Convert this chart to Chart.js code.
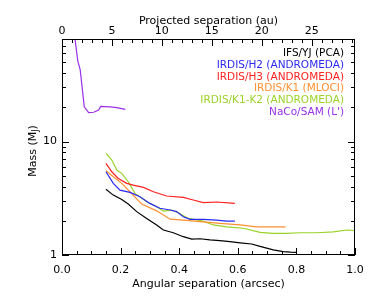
<!DOCTYPE html>
<html>
<head>
<meta charset="utf-8">
<script src="https://cdn.jsdelivr.net/npm/chart.js@4.4.1/dist/chart.umd.min.js"></script>
<style>
  html, body { margin: 0; padding: 0; background: #fff; }
  canvas { display: block; }
</style>
</head>
<body>
<canvas id="massChart" width="374" height="299"></canvas>
<script>
// au per arcsec (top axis)
const AU_PER_ARCSEC = 29.34;

const seriesLabels = [
  "IFS/YJ (PCA)",
  "IRDIS/H2 (ANDROMEDA)",
  "IRDIS/H3 (ANDROMEDA)",
  "IRDIS/K1 (MLOCI)",
  "IRDIS/K1-K2 (ANDROMEDA)",
  "NaCo/SAM (L')",
];
const seriesColors = ["#000000", "#2a2af0", "#ff2020", "#ff9030", "#9ad228", "#9a30e8"];

const ifsSep  = [0.150, 0.175, 0.204, 0.226, 0.255, 0.289, 0.323, 0.346, 0.380, 0.414, 0.443, 0.471, 0.505, 0.539, 0.573, 0.608, 0.647, 0.676, 0.721, 0.755, 0.780, 0.801];
const ifsMass = [3.79, 3.37, 3.09, 2.81, 2.41, 2.10, 1.84, 1.66, 1.57, 1.45, 1.38, 1.39, 1.36, 1.34, 1.31, 1.28, 1.25, 1.19, 1.11, 1.07, 1.06, 1.055];

const h2Sep  = [0.150, 0.175, 0.198, 0.232, 0.266, 0.300, 0.334, 0.369, 0.391, 0.414, 0.437, 0.482, 0.528, 0.562, 0.590];
const h2Mass = [5.41, 4.28, 3.73, 3.56, 3.26, 2.85, 2.58, 2.49, 2.41, 2.17, 2.06, 2.06, 2.03, 1.99, 1.99];

const h3Sep  = [0.150, 0.170, 0.192, 0.221, 0.243, 0.278, 0.312, 0.357, 0.414, 0.448, 0.482, 0.528, 0.590];
const h3Mass = [6.41, 5.41, 4.73, 4.28, 4.13, 3.94, 3.61, 3.31, 3.22, 3.05, 2.89, 2.93, 2.85];

const k1Sep  = [0.150, 0.175, 0.204, 0.232, 0.272, 0.323, 0.369, 0.414, 0.482, 0.539, 0.608, 0.665, 0.763];
const k1Mass = [5.52, 4.89, 4.28, 3.61, 2.81, 2.45, 2.07, 2.03, 1.96, 1.90, 1.84, 1.77, 1.77];

const k12Sep  = [0.150, 0.170, 0.187, 0.204, 0.226, 0.249, 0.289, 0.323, 0.346, 0.374, 0.397, 0.431, 0.482, 0.516, 0.562, 0.619, 0.676, 0.721, 0.767, 0.812, 0.869, 0.926, 0.972, 1.0];
const k12Mass = [7.85, 6.86, 5.60, 5.24, 4.42, 3.49, 2.94, 2.66, 2.44, 2.49, 2.36, 2.10, 1.99, 1.84, 1.77, 1.72, 1.58, 1.55, 1.55, 1.57, 1.57, 1.60, 1.66, 1.64];

const nacoSep  = [0.043, 0.054, 0.062, 0.076, 0.091, 0.108, 0.125, 0.132, 0.164, 0.187, 0.216];
const nacoMass = [85, 51, 43, 20.2, 18.0, 18.1, 18.9, 20.4, 20.2, 19.9, 19.2];

const yLabelTicks = [1, 10];
const auLabelTicks = [0, 5, 10, 15, 20, 25];

function pairs(xs, ys) {
  return xs.map((x, i) => ({ x: x, y: ys[i] }));
}

const allSep = [ifsSep, h2Sep, h3Sep, k1Sep, k12Sep, nacoSep];
const allMass = [ifsMass, h2Mass, h3Mass, k1Mass, k12Mass, nacoMass];

const datasets = seriesLabels.map((label, i) => ({
  label: label,
  data: pairs(allSep[i], allMass[i]),
  borderColor: seriesColors[i],
  borderWidth: 1.2,
  pointRadius: 0,
  tension: 0,
  fill: false,
}));

// ---- inward tick marks + frame ----
const frameTicks = {
  id: "frameTicks",
  afterDraw(chart) {
    const { ctx, chartArea: a, scales } = chart;
    ctx.save();
    ctx.strokeStyle = "#000";
    ctx.lineWidth = 1;
    ctx.strokeRect(a.left + 0.5, a.top + 0.5, a.right - a.left - 1, a.bottom - a.top - 1);
    ctx.beginPath();
    // bottom axis: major 0.2, minor 0.05
    for (let i = 0; i <= 20; i++) {
      const v = i * 0.05;
      const px = Math.round(scales.x.getPixelForValue(v)) + 0.5;
      const len = i % 4 === 0 ? 7 : 4;
      ctx.moveTo(px, a.bottom);
      ctx.lineTo(px, a.bottom - len);
    }
    // top axis: major 5 au, minor 1 au
    for (let v = 0; v <= 29; v++) {
      const px = Math.round(scales.x2.getPixelForValue(v)) + 0.5;
      const len = v % 5 === 0 ? 7 : 4;
      ctx.moveTo(px, a.top);
      ctx.lineTo(px, a.top + len);
    }
    // log y axis, left and right
    for (let d = 1; d <= 10; d *= 10) {
      for (let m = 1; m <= 9; m++) {
        const v = m * d;
        if (v > 80) break;
        const py = Math.round(scales.y.getPixelForValue(v)) + 0.5;
        const len = m === 1 ? 7 : 4;
        ctx.moveTo(a.left, py);
        ctx.lineTo(a.left + len, py);
        ctx.moveTo(a.right, py);
        ctx.lineTo(a.right - len, py);
      }
    }
    ctx.stroke();

    // y title with subscript
    ctx.fillStyle = "#000";
    ctx.translate(33, 151);
    ctx.rotate(-Math.PI / 2);
    ctx.textBaseline = "middle";
    const big = "11px 'DejaVu Sans'";
    const small = "8px 'DejaVu Sans'";
    ctx.font = big;
    const w1 = ctx.measureText("Mass (M").width;
    const w3 = ctx.measureText(")").width;
    ctx.font = small;
    const w2 = ctx.measureText("J").width;
    let x0 = -(w1 + w2 + w3) / 2;
    ctx.font = big;
    ctx.textAlign = "left";
    ctx.fillText("Mass (M", x0, 0);
    ctx.font = small;
    ctx.fillText("J", x0 + w1, 3);
    ctx.font = big;
    ctx.fillText(")", x0 + w1 + w2, 0);
    ctx.restore();

    // legend, right aligned text
    ctx.save();
    ctx.font = "10.5px 'DejaVu Sans'";
    ctx.textAlign = "right";
    ctx.textBaseline = "middle";
    chart.data.datasets.forEach((ds, i) => {
      ctx.fillStyle = ds.borderColor;
      ctx.fillText(ds.label, 344, 53.5 + i * 11.7);
    });
    ctx.restore();
  },
};

Chart.defaults.font.family = "'DejaVu Sans'";
Chart.defaults.font.size = 11;
Chart.defaults.color = "#000";

new Chart(document.getElementById("massChart").getContext("2d"), {
  type: "line",
  data: { datasets: datasets },
  options: {
    responsive: false,
    animation: false,
    devicePixelRatio: 1,
    layout: { padding: { left: 0, right: 19, top: 0, bottom: 0 } },
    plugins: { legend: { display: false }, tooltip: { enabled: false } },
    scales: {
      x: {
        type: "linear",
        position: "bottom",
        min: 0,
        max: 1,
        grid: { display: false, drawTicks: false },
        border: { display: false },
        ticks: { stepSize: 0.2, padding: 9, maxRotation: 0, autoSkip: false, callback: (v) => v.toFixed(1) },
        title: { display: true, text: "Angular separation (arcsec)", padding: { top: 0, bottom: 8 } },
        afterFit: (s) => { s.height = 44; },
      },
      x2: {
        type: "linear",
        position: "top",
        min: 0,
        max: AU_PER_ARCSEC,
        grid: { display: false, drawTicks: false },
        border: { display: false },
        ticks: { padding: 1, maxRotation: 0, autoSkip: false, callback: (v) => String(v) },
        afterBuildTicks: (s) => { s.ticks = auLabelTicks.map((v) => ({ value: v })); },
        title: { display: true, text: "Projected separation (au)", padding: { top: 15, bottom: 0 } },
        afterFit: (s) => { s.height = 39; },
      },
      y: {
        type: "logarithmic",
        min: 1,
        max: 80,
        grid: { display: false, drawTicks: false },
        border: { display: false },
        ticks: { padding: 5, autoSkip: false, callback: (v) => String(v) },
        afterBuildTicks: (s) => { s.ticks = yLabelTicks.map((v) => ({ value: v })); },
        afterFit: (s) => { s.width = 62; },
      },
    },
  },
  plugins: [frameTicks],
});
</script>
</body>
</html>
